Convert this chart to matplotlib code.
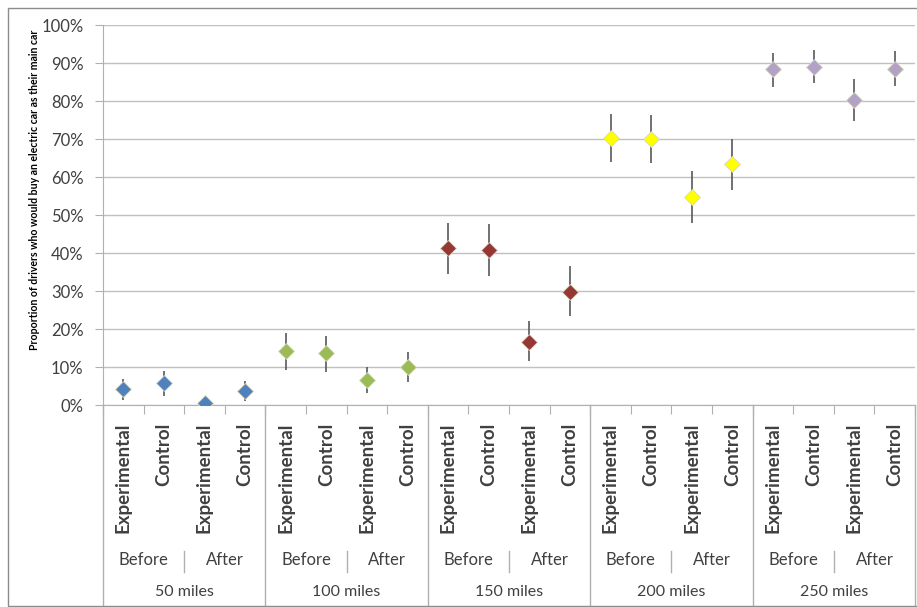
import matplotlib
matplotlib.use("Agg")
from matplotlib import pyplot as plot
from matplotlib.patches import Rectangle
import matplotlib.transforms as transforms

W, H = 917, 607

distances = ["50 miles", "100 miles", "150 miles", "200 miles", "250 miles"]
periods = ["Before", "After"]
groups = ["Experimental", "Control"]
colours = ["#4F81BD", "#9BBB59", "#953735", "#FFFF00", "#B3A2C7"]

#proportion (%) for each distance: Exp-Before, Ctrl-Before, Exp-After, Ctrl-After
proportion_50 = [4.2, 5.8, 0.5, 3.7]
proportion_100 = [14.2, 13.6, 6.6, 9.9]
proportion_150 = [41.3, 40.8, 16.6, 29.7]
proportion_200 = [70.3, 70.1, 54.8, 63.3]
proportion_250 = [88.3, 89.0, 80.3, 88.5]

#error bar ends (%)
lower_50 = [1.4, 2.4, 0.0, 1.0]
upper_50 = [6.8, 9.0, 0.9, 6.3]
lower_100 = [9.2, 8.6, 3.1, 6.0]
upper_100 = [19.0, 18.2, 10.0, 14.0]
lower_150 = [34.5, 34.0, 11.6, 23.4]
upper_150 = [48.0, 47.6, 22.0, 36.6]
lower_200 = [63.9, 63.6, 48.0, 56.6]
upper_200 = [76.6, 76.3, 61.6, 70.0]
lower_250 = [83.8, 84.8, 74.8, 84.0]
upper_250 = [92.7, 93.5, 85.9, 93.2]

proportions = [proportion_50, proportion_100, proportion_150, proportion_200, proportion_250]
lowers = [lower_50, lower_100, lower_150, lower_200, lower_250]
uppers = [upper_50, upper_100, upper_150, upper_200, upper_250]

FONT = "Lato"
GRID = "#C0C0C0"
LINE = "#B0B0B0"
TEXT = "#404040"


def px(x, y):
    #pixel (top-left origin) to figure fraction
    return x / W, 1 - y / H


def main():
    figure = plot.figure(figsize=(W / 100, H / 100), dpi=100)
    left, top = px(103, 25)
    right, bottom = px(915, 405)
    axis = figure.add_axes([left, bottom, right - left, top - bottom])

    #chart border
    x0, y0 = px(8, 606)
    x1, y1 = px(920, 8)
    figure.patches.append(Rectangle((x0, y0), x1 - x0, y1 - y0, transform=figure.transFigure,
                                    fill=False, edgecolor="#8C8C8C", linewidth=1))

    n = 0
    for d in range(len(distances)):
        for k in range(4):
            value = proportions[d][k] / 100
            low = lowers[d][k] / 100
            high = uppers[d][k] / 100
            axis.errorbar([n], [value], yerr=[[value - low], [high - value]], fmt="none",
                          ecolor="#595959", elinewidth=1.2, capsize=0, zorder=3)
            axis.plot([n], [value], marker="D", markersize=8.5, color=colours[d],
                      markeredgecolor="#D8D8C0", markeredgewidth=0.6, linestyle="none", zorder=4)
            n += 1

    axis.set_xlim(-0.5, 19.5)
    axis.set_ylim(0, 1)
    axis.set_yticks([i / 10 for i in range(11)])
    axis.set_yticklabels([f"{i * 10}%" for i in range(11)], fontsize=12, fontfamily=FONT, color=TEXT)
    axis.yaxis.grid(True, color=GRID, linewidth=1)
    axis.set_axisbelow(True)
    axis.tick_params(axis="y", length=6, color=LINE, pad=8)
    axis.set_xticks([i - 0.5 for i in range(21)])
    axis.set_xticklabels([])
    axis.tick_params(axis="x", length=6.5, color=LINE)
    for side in ["top", "right"]:
        axis.spines[side].set_visible(False)
    axis.spines["left"].set_color(LINE)
    axis.spines["bottom"].set_color(LINE)

    axis.set_ylabel("Proportion of drivers who would buy an electric car as their main car",
                    fontsize=7.6, fontweight="bold", fontfamily=FONT, color="black")
    axis.yaxis.set_label_coords(-0.078, 0.566)

    #multi-level category axis
    blend = transforms.blended_transform_factory(axis.transData, figure.transFigure)
    y_cat = px(0, 423)[1]
    y_period = px(0, 560)[1]
    y_dist = px(0, 592)[1]
    y_axis = px(0, 405)[1]
    y_end = px(0, 606)[1]
    y_sep_top = px(0, 551)[1]
    y_sep_bottom = px(0, 572)[1]

    for i in range(20):
        axis.text(i, y_cat, groups[i % 2], transform=blend, rotation=90, ha="center", va="top",
                  fontsize=13.5, fontweight="bold", fontfamily=FONT, color=TEXT)
    for j in range(10):
        axis.text(2 * j + 0.5, y_period, periods[j % 2], transform=blend, ha="center", va="center",
                  fontsize=12, fontfamily=FONT, color=TEXT)
        if j % 2 == 0:
            axis.plot([2 * j + 1.5] * 2, [y_sep_top, y_sep_bottom], transform=blend,
                      color=LINE, linewidth=1, clip_on=False)
    for d in range(len(distances)):
        axis.text(4 * d + 1.5, y_dist, distances[d], transform=blend, ha="center", va="center",
                  fontsize=11.5, fontfamily=FONT, color=TEXT)
        axis.plot([4 * d + 3.5] * 2, [y_axis, y_end], transform=blend,
                  color=LINE, linewidth=1, clip_on=False)
    axis.plot([-0.5, -0.5], [y_axis, y_end], transform=blend, color=LINE, linewidth=1, clip_on=False)

    plot.savefig("out.png", dpi=100)


if (__name__ == "__main__"):
    main()
